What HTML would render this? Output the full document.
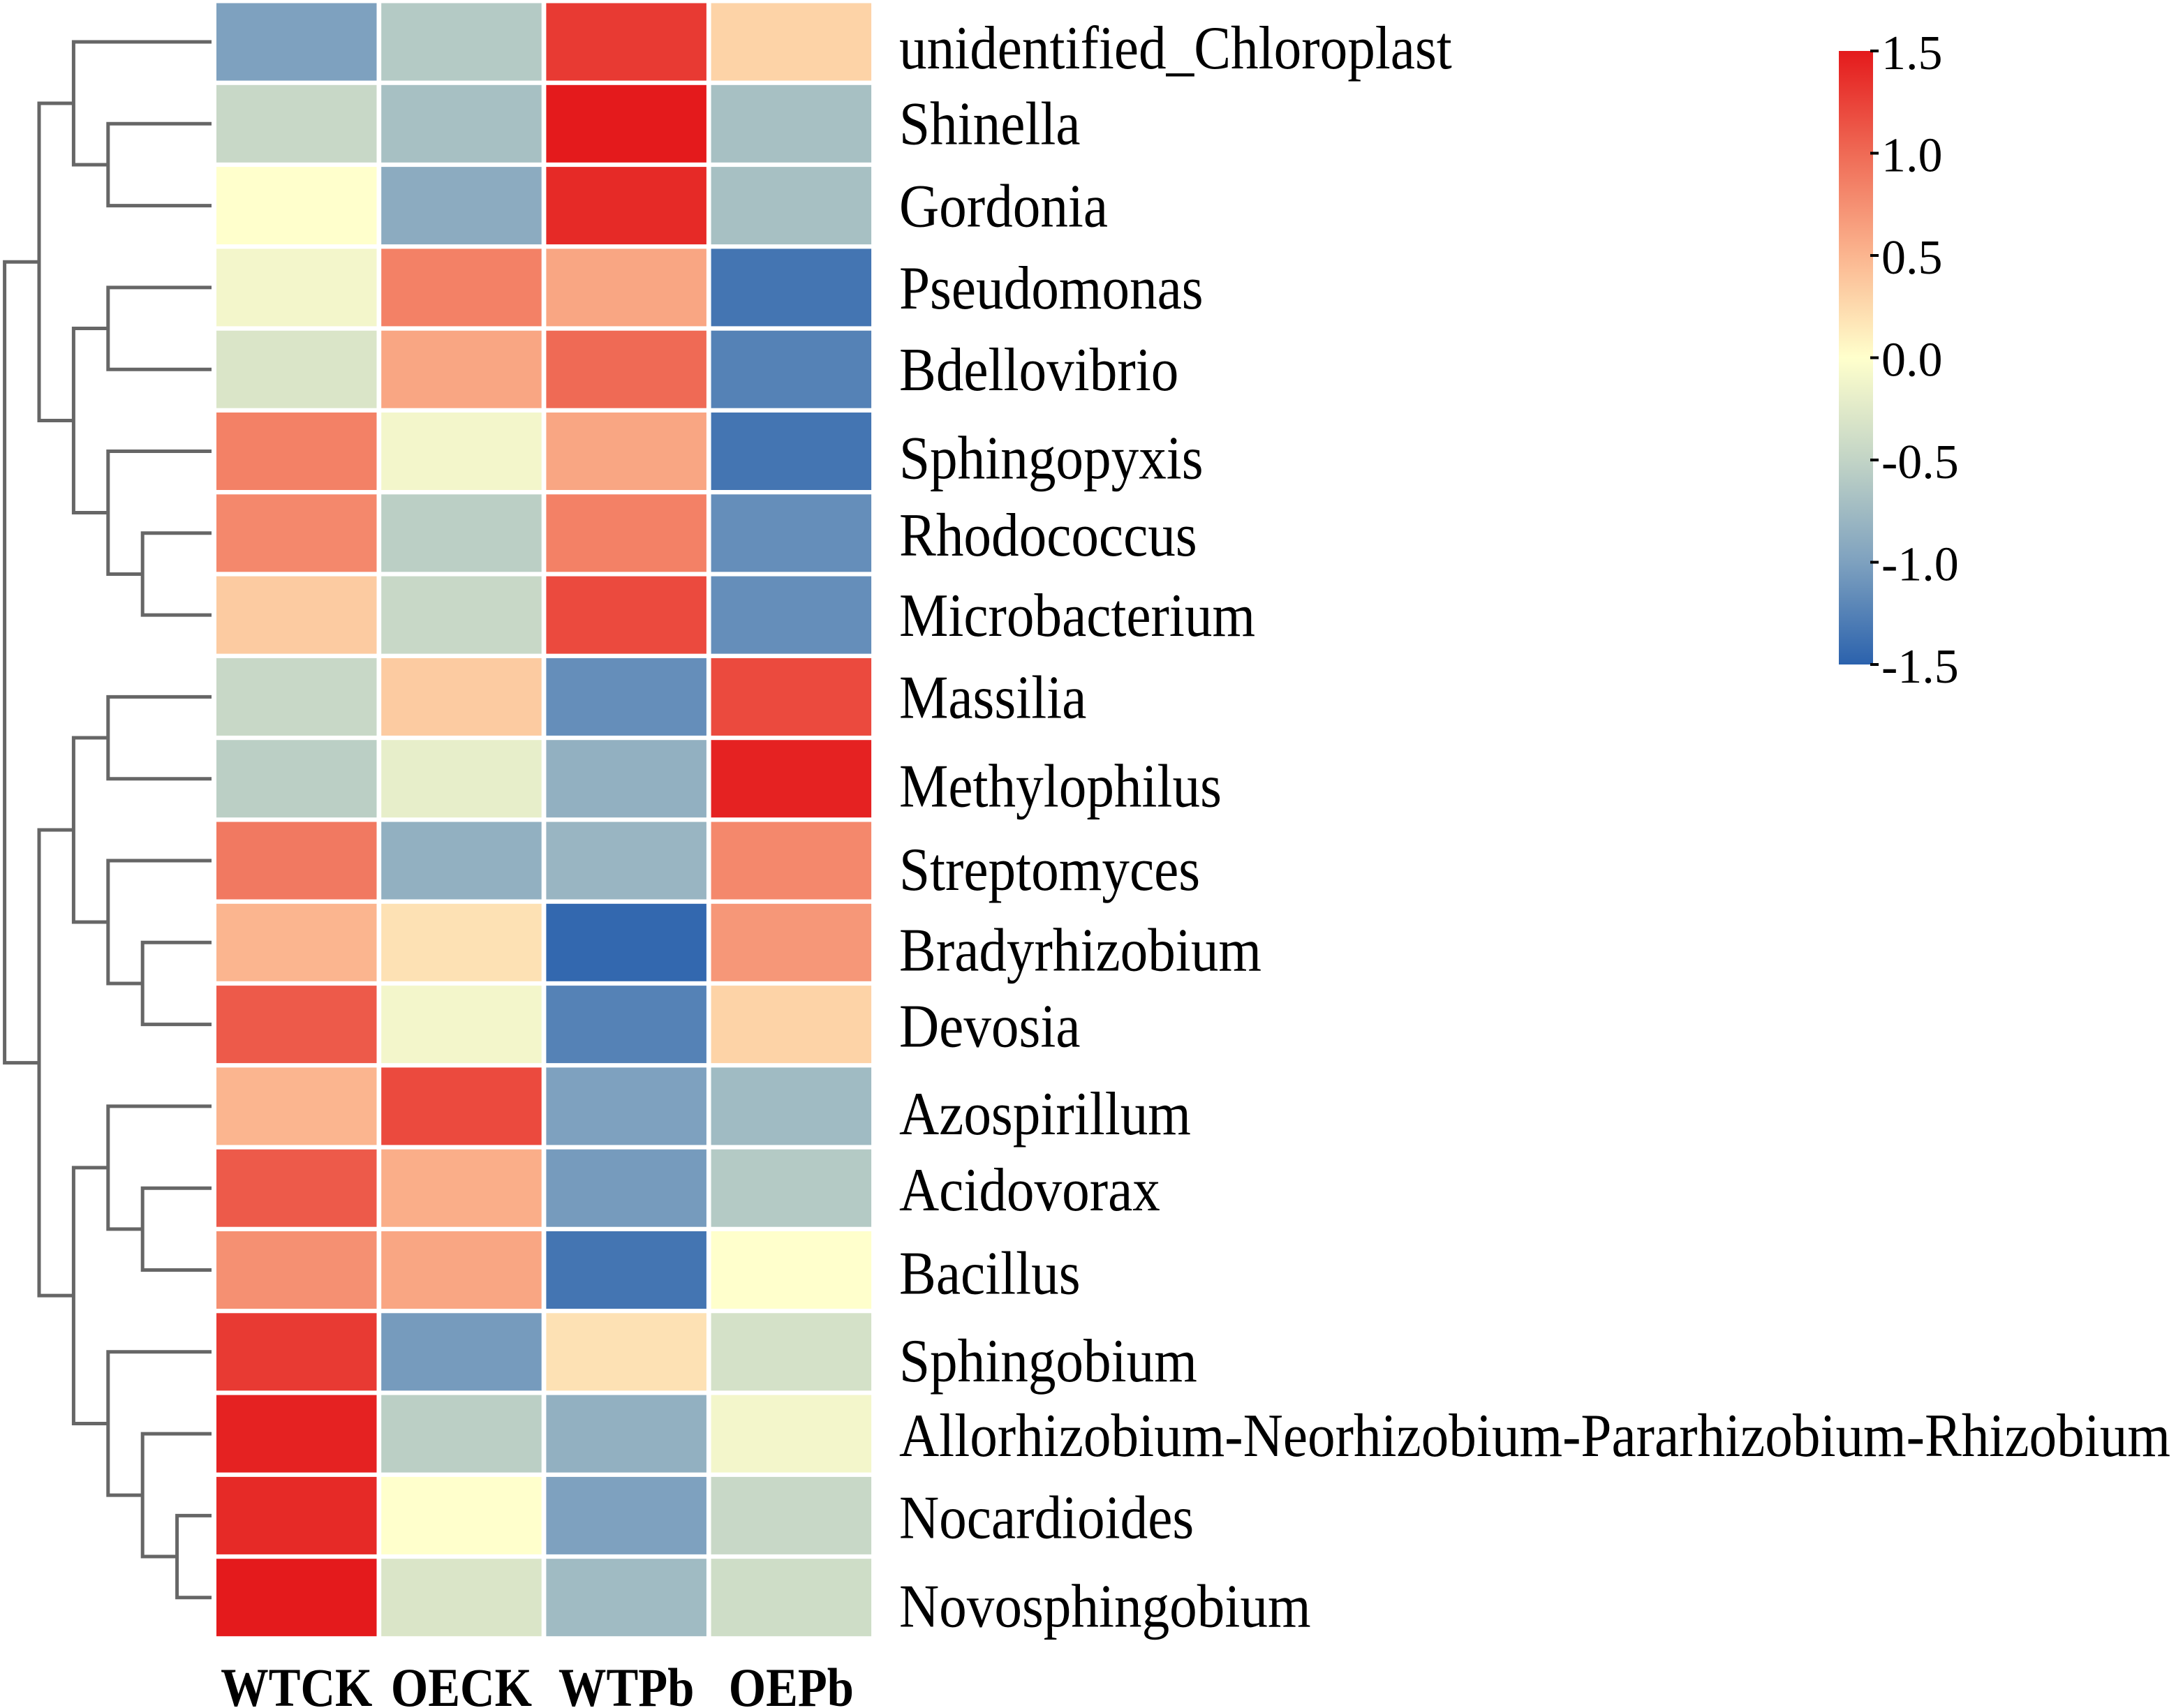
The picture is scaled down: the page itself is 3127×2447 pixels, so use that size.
<!DOCTYPE html>
<html><head><meta charset="utf-8"><style>
html,body{margin:0;padding:0;background:#fff;}
svg{display:block;}
text{font-family:"Liberation Serif",serif;fill:#000;}
</style></head><body>
<svg id="chart" width="3127" height="2447" viewBox="0 0 3127 2447" xmlns="http://www.w3.org/2000/svg">
<defs>
<linearGradient id="cbgrad" x1="0" y1="1" x2="0" y2="0">
<stop offset="0" stop-color="#2b62ad"/>
<stop offset="0.1667" stop-color="#7ea1bf"/>
<stop offset="0.3333" stop-color="#c2d4c6"/>
<stop offset="0.5" stop-color="#ffffcc"/>
<stop offset="0.6667" stop-color="#fbb58f"/>
<stop offset="0.8333" stop-color="#ef6a55"/>
<stop offset="1" stop-color="#e41a1c"/>
</linearGradient>
</defs>
<g id="dendro"></g>
<g id="cells"></g>
<g id="rowlabels"></g>
<g id="collabels"></g>
<g id="colorbar"></g>
</svg>
<script>
const rowNames = ["unidentified_Chloroplast","Shinella","Gordonia","Pseudomonas","Bdellovibrio","Sphingopyxis","Rhodococcus","Microbacterium","Massilia","Methylophilus","Streptomyces","Bradyrhizobium","Devosia","Azospirillum","Acidovorax","Bacillus","Sphingobium","Allorhizobium-Neorhizobium-Pararhizobium-Rhizobium","Nocardioides","Novosphingobium"];
const colNames = ["WTCK","OECK","WTPb","OEPb"];
const valWTCK = [-1.0,-0.45,0.0,-0.1,-0.3,0.85,0.8,0.35,-0.45,-0.55,0.9,0.5,1.1,0.5,1.1,0.75,1.3,1.45,1.4,1.5];
const valOECK = [-0.6,-0.7,-0.9,0.85,0.6,-0.1,-0.55,-0.45,0.35,-0.2,-0.85,0.2,-0.1,1.2,0.55,0.6,-1.05,-0.55,0.0,-0.3];
const valWTPb = [1.3,1.5,1.4,0.6,1.0,0.6,0.85,1.2,-1.15,-0.85,-0.8,-1.45,-1.25,-1.0,-1.05,-1.35,0.2,-0.85,-1.0,-0.75];
const valOEPb = [0.3,-0.7,-0.7,-1.35,-1.25,-1.35,-1.15,-1.15,1.2,1.45,0.8,0.7,0.3,-0.75,-0.6,0.0,-0.35,-0.1,-0.45,-0.4];
const legendTicks = [1.5,1.0,0.5,0.0,-0.5,-1.0,-1.5];
const legendTickLabels = ["1.5","1.0","0.5","0.0","-0.5","-1.0","-1.5"];
// hclust-style merges: negative = leaf index (1-based), positive = merge index
const mergeA = [-2,-1,-7,-6,-4,5,2,-9,-12,-11,8,-15,-14,-19,-18,-17,13,11,7];
const mergeB = [-3,1,-8,3,-5,4,6,-10,-13,9,10,-16,12,-20,14,15,16,17,18];
const mergeH = [3,4,2,3,3,4,5,3,2,3,4,2,3,1,2,3,4,5,6];
const labelNudge = [6,1.5,2,2,2,6.5,3,2,2,7,8,7,3,7,3,4,8,3,3,8];

const NS="http://www.w3.org/2000/svg";
const X0=310, colPitch=236.2, cellW=229.5, Y0=4.5, rowPitch=117.3, cellH=111;
const rowCenter = i => Y0 + i*rowPitch + cellH/2;
const colX = j => X0 + j*colPitch;
const dX = h => 303 - h*49.4;
const stops=[[-1.5,[43,98,173]],[-1.0,[126,161,191]],[-0.5,[194,212,198]],[0,[255,255,204]],[0.5,[251,181,143]],[1.0,[239,106,85]],[1.5,[228,26,28]]];
function color(v){
  v=Math.max(-1.5,Math.min(1.5,v));
  for(let k=0;k<stops.length-1;k++){
    const a=stops[k],b=stops[k+1];
    if(v<=b[0]){const t=(v-a[0])/(b[0]-a[0]);
      const c=a[1].map((x,i)=>Math.round(x+(b[1][i]-x)*t));
      return `rgb(${c[0]},${c[1]},${c[2]})`;}
  }
  return "rgb(228,26,28)";
}
function mk(tag,attrs,parent){const e=document.createElementNS(NS,tag);for(const k in attrs)e.setAttribute(k,attrs[k]);parent.appendChild(e);return e;}

const cellsG=document.getElementById('cells');
const series=[valWTCK,valOECK,valWTPb,valOEPb];
series.forEach((vals,j)=>{
  vals.forEach((v,i)=>{
    const r=mk('rect',{x:colX(j),y:Y0+i*rowPitch,width:cellW,height:cellH,fill:color(v)},cellsG);
    
    
  });
});

const rl=document.getElementById('rowlabels');
rowNames.forEach((n,i)=>{
  const y=rowCenter(i)+26+2*labelNudge[i];
  const t=mk('text',{transform:`translate(1288,${y}) scale(0.9,1)`,'font-size':88},rl);
  t.textContent=n;
  
  
});

const cl=document.getElementById('collabels');
colNames.forEach((n,j)=>{
  const t=mk('text',{transform:`translate(${colX(j)+cellW/2},2444) scale(0.88,1)`,'font-size':78,'font-weight':'bold','text-anchor':'middle'},cl);
  t.textContent=n;
  
  
});

const dg=document.getElementById('dendro');
const nodeY=[], nodeX=[];
function pos(id){ if(id<0) return [303, rowCenter(-id-1)]; return [nodeX[id-1], nodeY[id-1]]; }
for(let m=0;m<mergeH.length;m++){
  const a=pos(mergeA[m]), b=pos(mergeB[m]);
  const x=dX(mergeH[m]);
  nodeX.push(x); nodeY.push((a[1]+b[1])/2);
  const p=mk('path',{d:`M${a[0]},${a[1]} H${x} V${b[1]} H${b[0]}`,fill:'none',stroke:'#666',"stroke-width":5},dg);
  
  
}

const cb=document.getElementById('colorbar');
const cbTop=73, cbBot=952, cbX=2634, cbW=49;
const cbY = v => cbTop + (1.5-v)/3*(cbBot-cbTop);
const bar=mk('rect',{x:cbX,y:cbTop,width:cbW,height:cbBot-cbTop,fill:'url(#cbgrad)'},cb);


legendTicks.forEach((v,k)=>{
  const y=cbY(v);
  const l=mk('line',{x1:cbX+cbW-4,x2:cbX+cbW+8,y1:y,y2:y,stroke:'#000','stroke-width':4},cb);
  
  
  const t=mk('text',{x:2695,y:y+26,'font-size':70},cb);
  t.textContent=legendTickLabels[k];
  
  
});
</script>
</body></html>
